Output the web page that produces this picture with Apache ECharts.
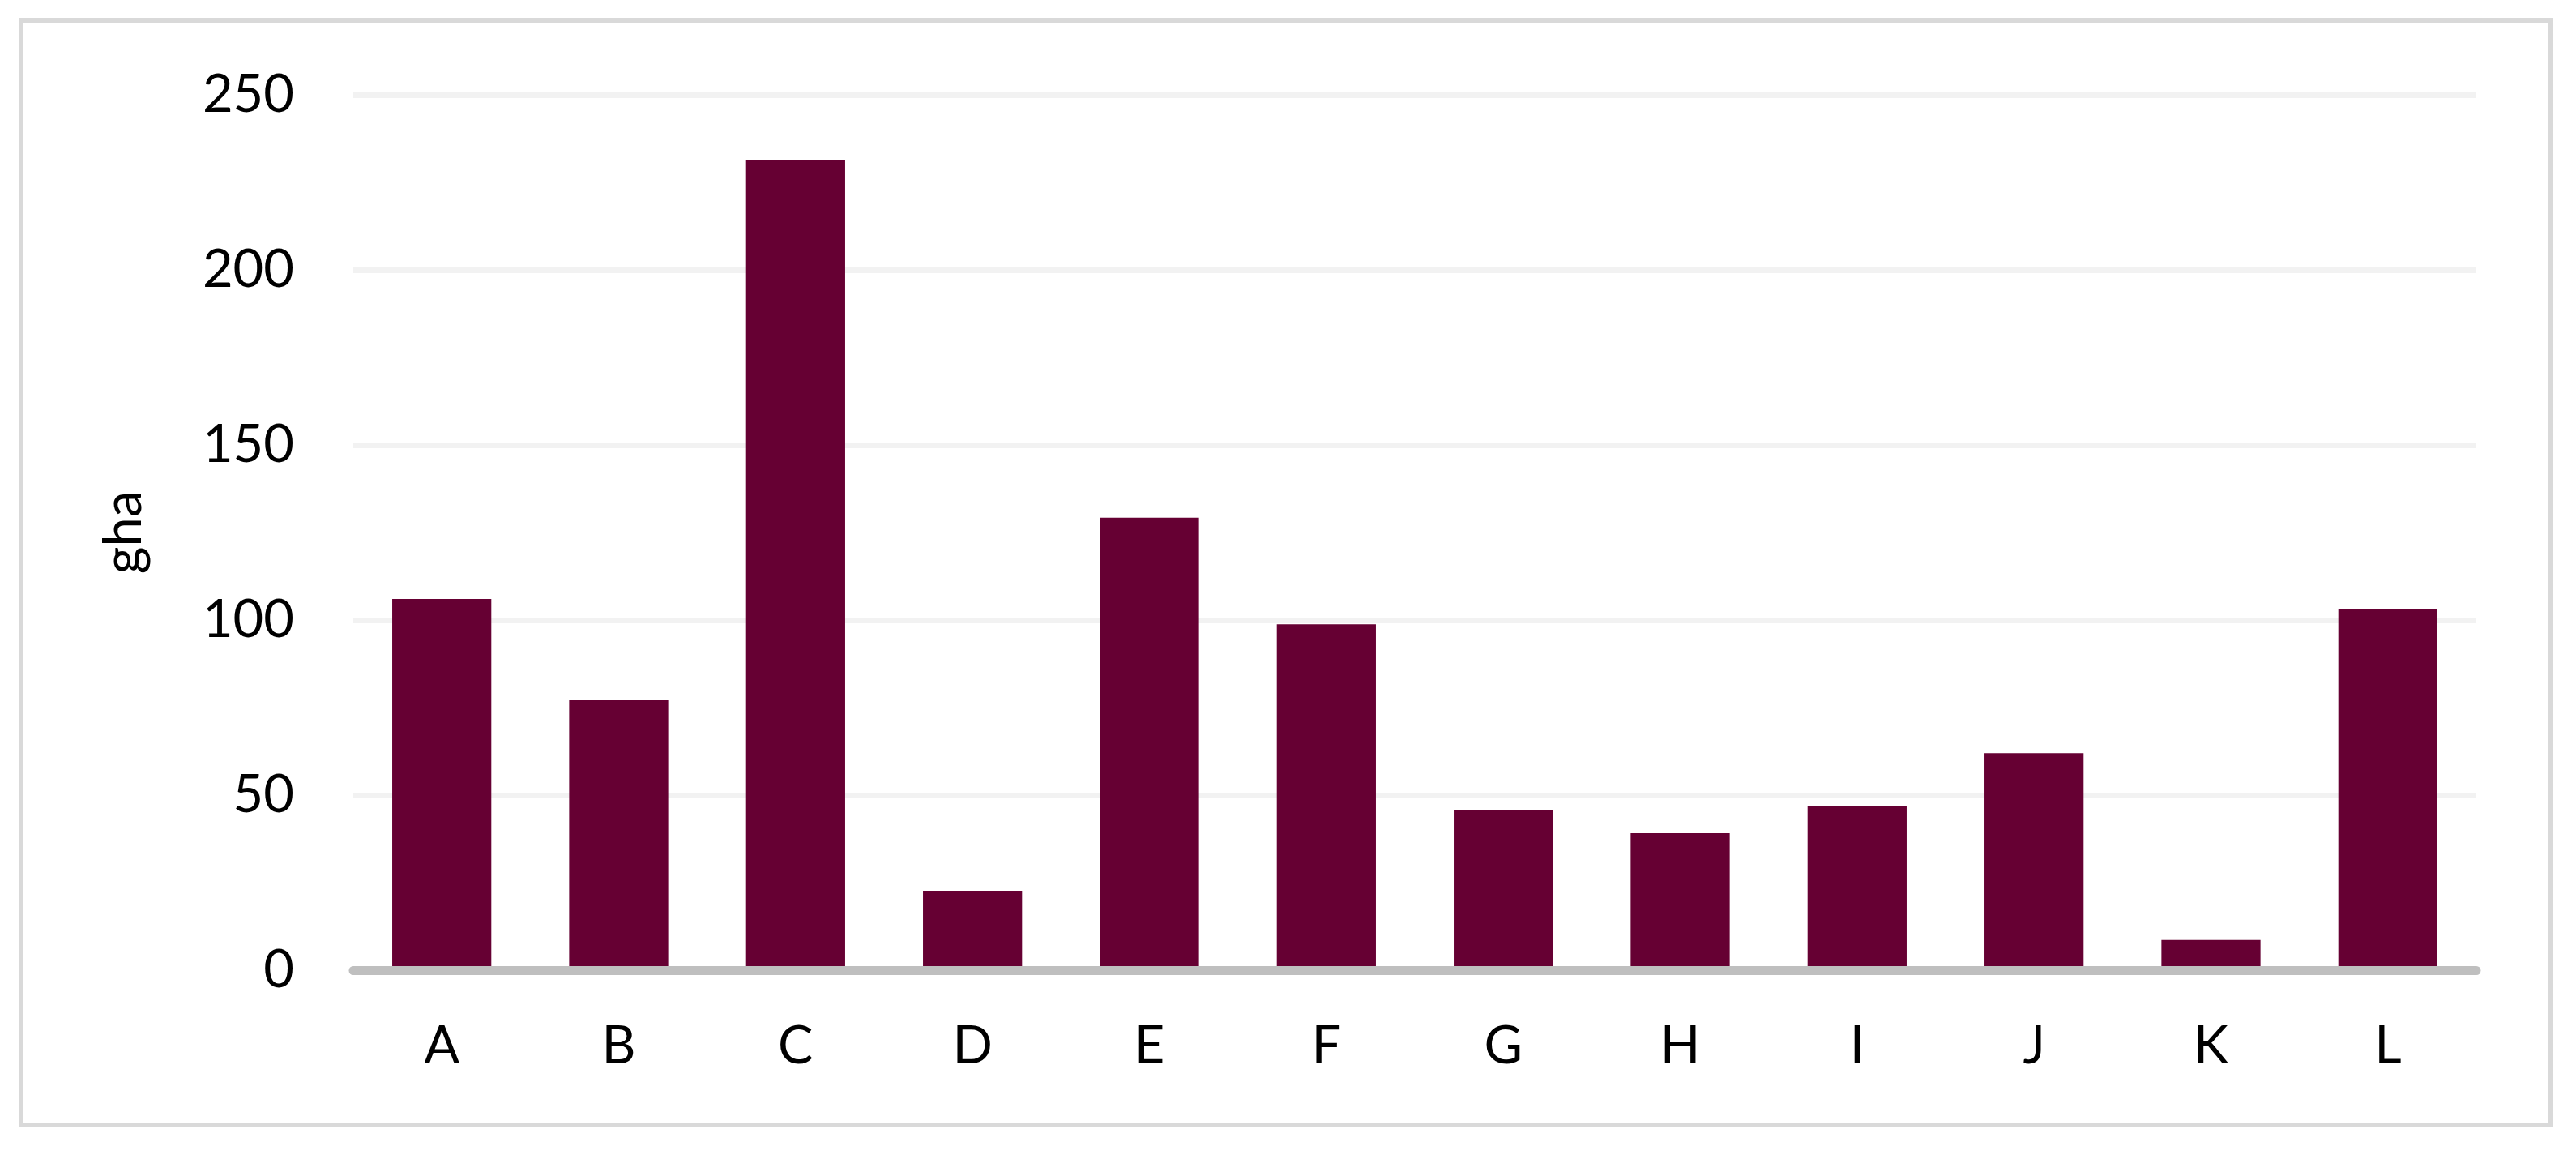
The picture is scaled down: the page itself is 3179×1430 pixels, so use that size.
<!DOCTYPE html>
<html>
<head>
<meta charset="utf-8">
<script src="https://cdn.jsdelivr.net/npm/echarts@6/dist/echarts.min.js"></script>
<style>
html,body{margin:0;padding:0;background:#fff;}
#chart{width:3179px;height:1430px;}
</style>
</head>
<body>
<div id="chart"></div>
<script>
var categories = ['A','B','C','D','E','F','G','H','I','J','K','L'];
var values = [106.0, 77.1, 231.3, 22.7, 129.2, 98.8, 45.6, 39.1, 46.8, 62.0, 8.6, 103.0];
var yTicks = { min: 0, max: 250, interval: 50 };
var yName = 'gha';

var FONT = 'Lato';
var chart = echarts.init(document.getElementById('chart'), null, {renderer: 'canvas'});
chart.setOption({
  backgroundColor: '#ffffff',
  animation: false,
  graphic: [{
    type: 'rect',
    shape: {x: 26, y: 25, width: 3121, height: 1363},
    style: {fill: 'none', stroke: '#d9d9d9', lineWidth: 6},
    z: -10, silent: true
  }],
  grid: {left: 436, right: 123, top: 117, bottom: 233, containLabel: false},
  xAxis: {
    type: 'category',
    data: categories,
    z: 10,
    axisTick: {show: false},
    axisLine: {show: true, lineStyle: {color: '#bfbfbf', width: 11}},
    axisLabel: {color: '#000', fontSize: 65, fontFamily: FONT, margin: 62}
  },
  yAxis: {
    type: 'value',
    min: yTicks.min, max: yTicks.max, interval: yTicks.interval,
    name: yName,
    nameLocation: 'middle',
    nameGap: 250,
    nameRotate: 90,
    nameTextStyle: {color: '#000', fontSize: 65, fontFamily: FONT},
    axisLine: {show: false},
    axisTick: {show: false},
    splitLine: {show: true, lineStyle: {color: '#f2f2f2', width: 7}},
    axisLabel: {color: '#000', fontSize: 65, fontFamily: FONT, margin: 73}
  },
  series: [{
    type: 'bar',
    data: values,
    barWidth: '56%',
    itemStyle: {color: '#660033'}
  }]
});
</script>
</body>
</html>
